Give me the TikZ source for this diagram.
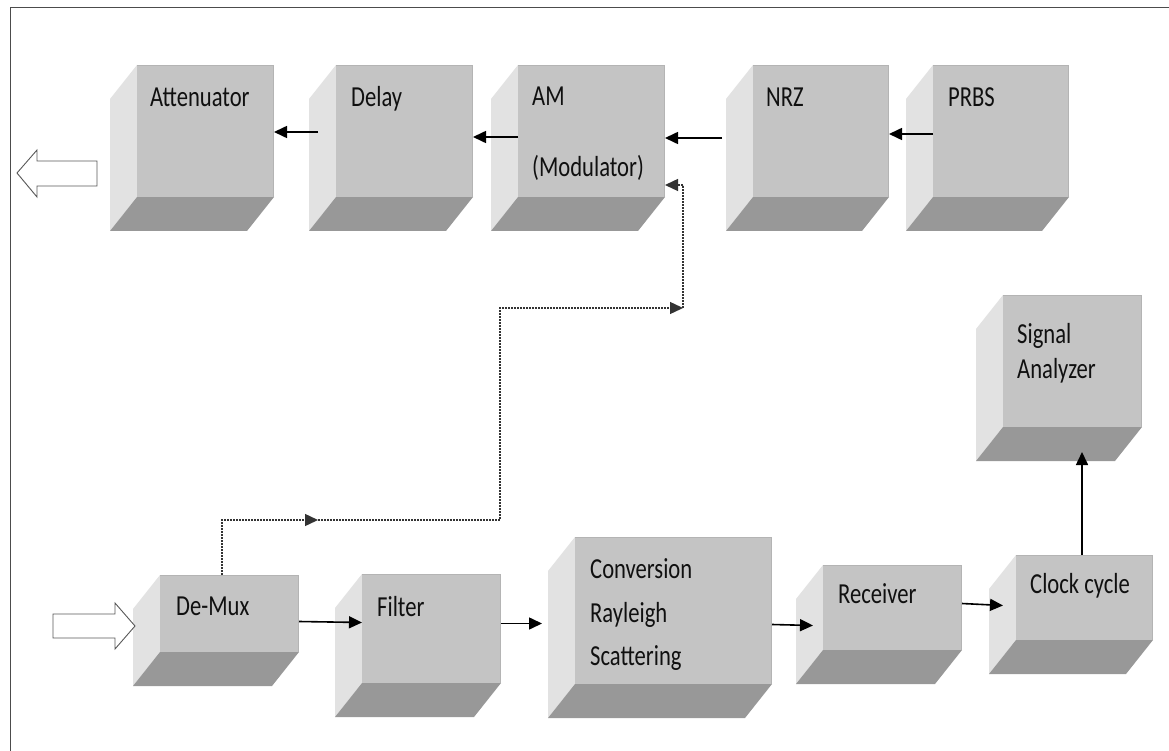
\documentclass[tikz,border=0pt]{standalone}
\usepackage{fontspec}
\newfontfamily\lblfont[FakeStretch=0.78]{Carlito}
\usetikzlibrary{arrows.meta,calc}
\definecolor{frontc}{HTML}{C4C4C4}
\definecolor{sidec}{HTML}{E2E2E2}
\definecolor{botc}{HTML}{989898}
\definecolor{edgec}{HTML}{B4B4B4}
\definecolor{txtc}{HTML}{101010}
\tikzset{
  frontface/.style={fill=frontc, draw=none, inner sep=0pt, outer sep=0pt, anchor=north west},
  lbl/.style={font=\lblfont\fontsize{29}{34}\selectfont, text=txtc, inner sep=0pt, anchor=base west},
  arr/.style={draw=black, line width=1.6pt, -{Triangle[length=13pt,width=12pt]}},
  dotarr/.style={draw=black!80, line width=1.4pt, dash pattern=on 2pt off 1pt, -{Triangle[length=13pt,width=12pt]}},
  dotln/.style={draw=black!80, line width=1.4pt, dash pattern=on 2pt off 1pt},
  hollow/.style={draw=black!65, fill=white, line width=0.9pt, line join=miter},
  frame/.style={draw=black!70, line width=1pt}
}
% #1 name, #2 left, #3 top, #4 right, #5 front bottom
\newcommand\gcube[5]{%
  \fill[sidec] (#2,#3) -- (#2-27,#3+34) -- (#2-27,#5+34) -- (#2,#5) -- cycle;
  \fill[botc] (#2,#5) -- (#4,#5) -- (#4-27,#5+34) -- (#2-27,#5+34) -- cycle;
  \node[frontface, minimum width={(#4-#2)*1pt}, minimum height={(#5-#3)*1pt}] (#1) at (#2,#3) {};
  \draw[edgec, line width=1pt] (#2,#3+0.5) -- (#4-0.5,#3+0.5) -- (#4-0.5,#5);
}
\begin{document}
\begin{tikzpicture}[x=1pt,y=-1pt]
\useasboundingbox (0,0) rectangle (1169,751);
\fill[white] (0,0) rectangle (1169,751);
\draw[frame] (10,760) -- (10,8) -- (1180,8);

% top row
\gcube{att}{137}{65}{274}{197}
\gcube{delay}{336}{65}{473}{197}
\gcube{am}{518}{65}{665}{197}
\gcube{nrz}{753}{65}{889}{197}
\gcube{prbs}{933}{65}{1069}{197}
% signal analyzer
\gcube{sig}{1003}{295}{1142}{427}
% bottom row
\gcube{demux}{160}{575}{299}{652}
\gcube{filter}{362}{574}{501}{683}
\gcube{conv}{575}{537}{772}{684}
\gcube{recv}{823}{565}{962}{650}
\gcube{clock}{1016}{555}{1153}{640}

% labels
\node[lbl] (att-t) at (150,107) {Attenuator};
\node[lbl] (delay-t) at (351,107) {Delay};
\node[lbl] (am-t) at (532,106) {AM};
\node[lbl] (am-t2) at (532,177) {(Modulator)};
\node[lbl] (nrz-t) at (766,107) {NRZ};
\node[lbl] (prbs-t) at (948,107) {PRBS};
\node[lbl] (sig-t) at (1017,343) {Signal};
\node[lbl] (sig-t2) at (1017,378) {Analyzer};
\node[lbl] (demux-t) at (176,615) {De-Mux};
\node[lbl] (filter-t) at (377,616) {Filter};
\node[lbl] (conv-t) at (590,578) {Conversion};
\node[lbl] (conv-t2) at (590,622) {Rayleigh};
\node[lbl] (conv-t3) at (590,665) {Scattering};
\node[lbl] (recv-t) at (838,603) {Receiver};
\node[lbl] (clock-t) at (1030,593) {Clock cycle};

% hollow arrows
\draw[hollow] (97,161) -- (37,161) -- (37,150) -- (17,173) -- (37,197) -- (37,186) -- (97,186) -- cycle;
\draw[hollow] (53,614) -- (115,614) -- (115,603) -- (135,626) -- (115,649) -- (115,638) -- (53,638) -- cycle;

% top row connectors
\draw[arr] ($(prbs.west)+(0,3)$) -- ($(nrz.east)+(0,3)$);
\draw[arr] ($(nrz.west)+(-31,7)$) -- ($(am.east)+(0,7)$);
\draw[arr] ($(am.west)+(0,6)$) -- ($(delay.east)+(0,6)$);
\draw[arr] ($(delay.west)+(-18,1)$) -- ($(att.east)+(0,1)$);

% bottom row connectors
\draw[arr] ($(demux.east)+(0,8)$) -- ($(filter.west)+(0,-6)$);
\draw[arr] ($(filter.east)+(0,-5)$) -- ($(conv.west)+(-33,13)$);
\draw[arr] ($(conv.east)+(0,14)$) -- ($(recv.west)+(-10,18)$);
\draw[arr] ($(recv.east)+(0,-4)$) -- ($(clock.west)+(-13,8)$);
\draw[arr] ($(clock.north)+(-2.5,0)$) -- ($(sig.south)+(9.5,25)$);

% dotted feedback from De-Mux to AM
\coordinate (d1) at (222,520);
\coordinate (m1) at (318,520);
\coordinate (d2) at (500,520);
\coordinate (d3) at (500,308);
\coordinate (d4) at (683,308);
\coordinate (d5) at (683,185);
\draw[dotarr] ($(demux.north)+(-7.5,0)$) -- (d1) -- (m1);
\draw[dotarr] (m1) -- (d2) -- (d3) -- (d4);
\draw[dotln] (d4) -- (d5);
\draw[dotarr] (d5) -- ($(am.east)+(0,54)$);
\end{tikzpicture}
\end{document}
